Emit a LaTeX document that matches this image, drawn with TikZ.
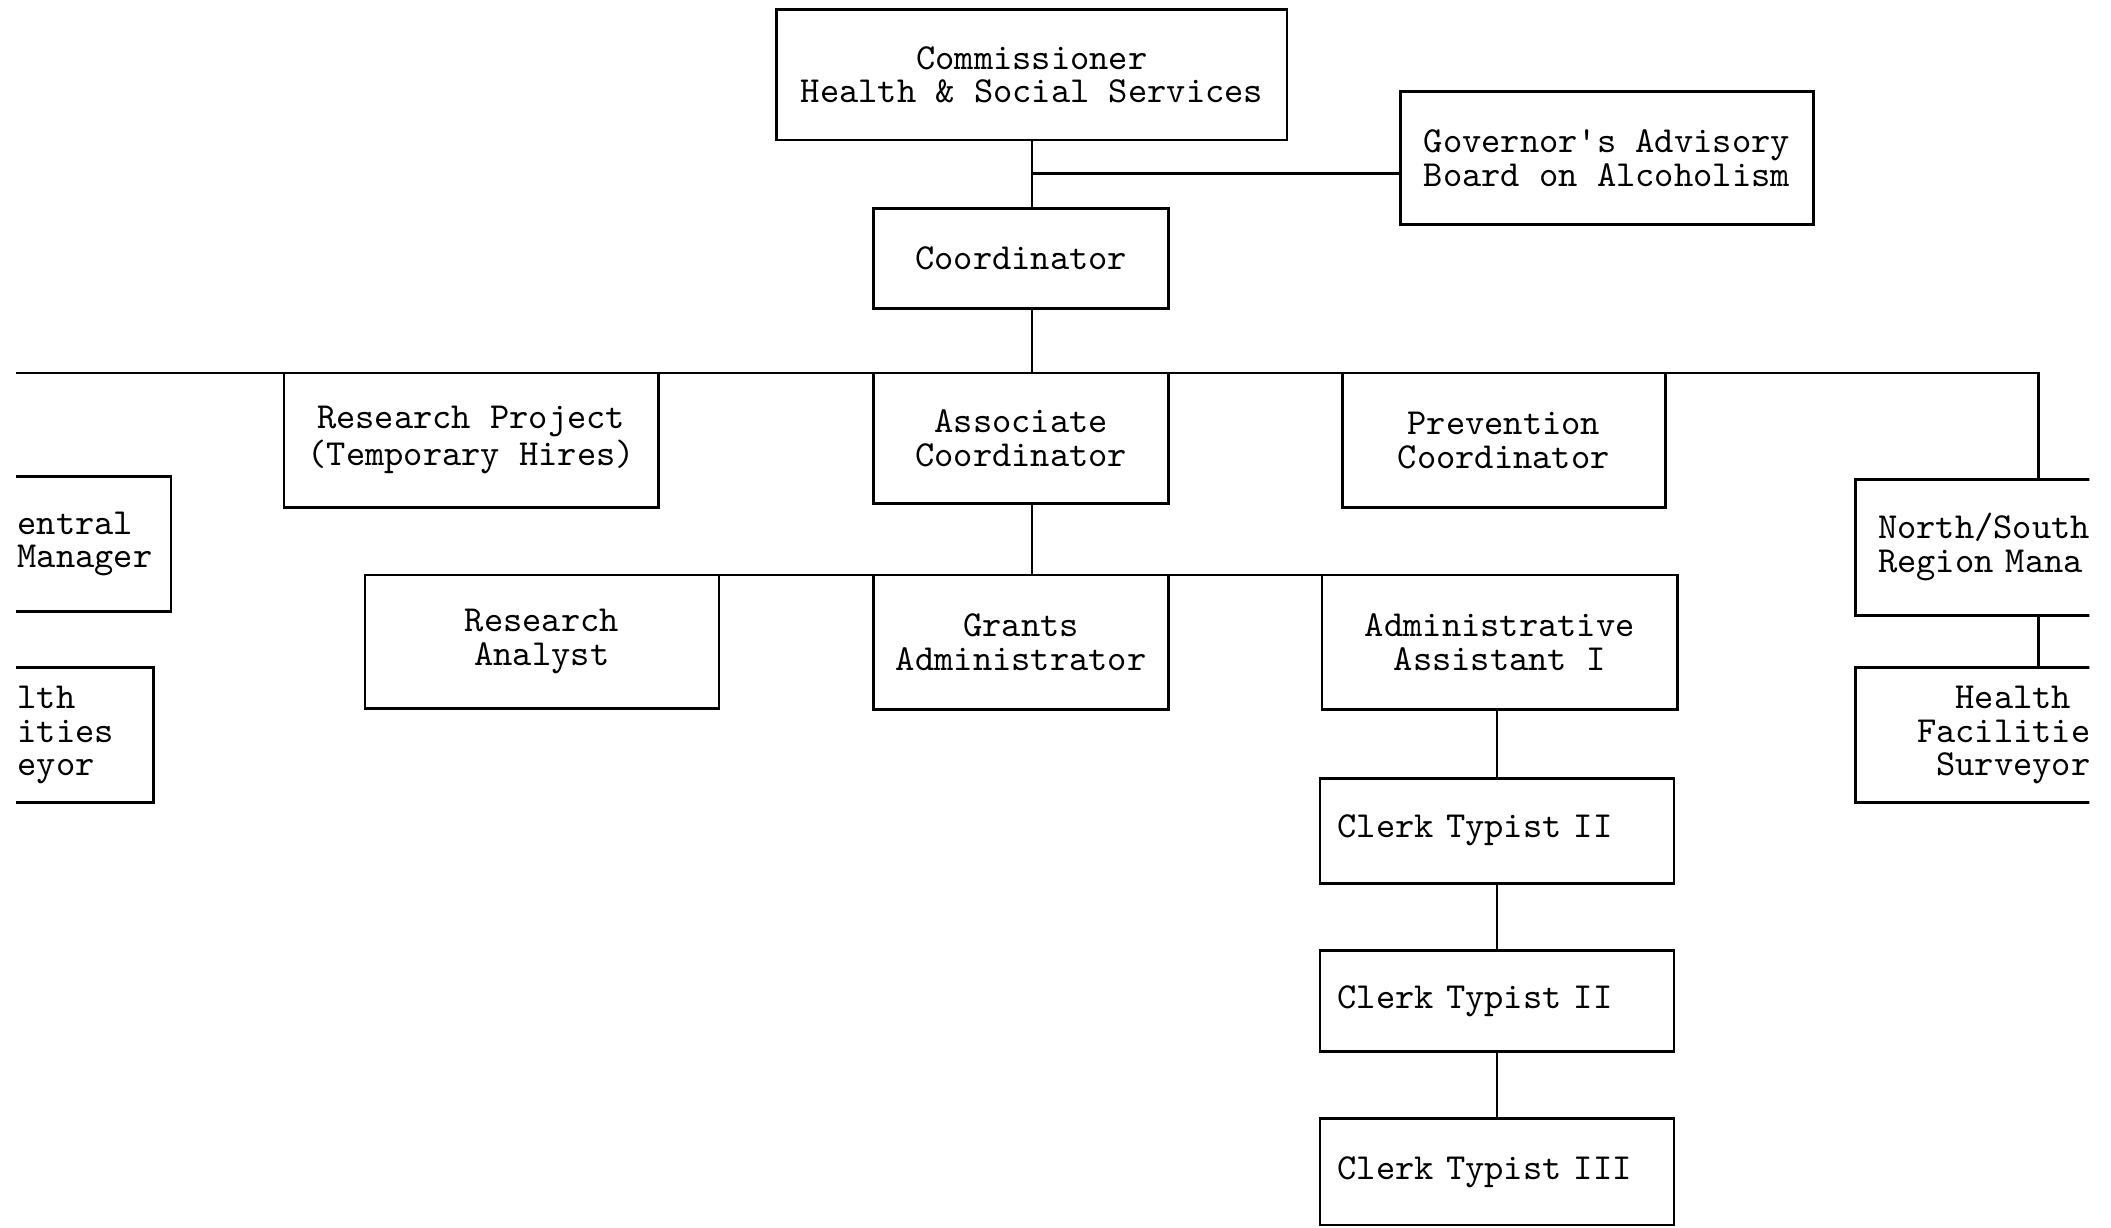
\documentclass[tikz,border=0pt]{standalone}
\usepackage{tikz}

\tikzset{
	post/.style={shape=rectangle, draw=black, line width=0.8pt, align=center, inner sep=0pt, outer sep=0pt},
	cutpost/.style={post, align=left, inner ysep=0pt},
	clerkpost/.style={post, align=left, text width=94.8pt, inner xsep=5.2pt},
	link/.style={draw=black, line width=0.8pt},
}

\begin{document}
\begin{tikzpicture}[x=0.4pt, y=-0.4pt, font=\fontsize{10.9}{10}\selectfont\ttfamily]
	\useasboundingbox (0,0) rectangle (1568,912);

	\begin{scope}
	\clip (12,-5) rectangle (1552,917);

	\node[post, minimum width=151.6pt, minimum height=38.8pt] (comm) at (766.5,55.5) {Commissioner\\Health \& Social Services};
	\node[post, minimum width=122.8pt, minimum height=39.6pt] (gov) at (1193.5,117.5) {Governor\textquotesingle s Advisory\\Board on Alcoholism};
	\node[post, minimum width=87.6pt, minimum height=29.6pt] (coord) at (758.5,192) {Coordinator};

	\node[post, minimum width=111.2pt, minimum height=40pt] (resproj) at (350,327) {Research Project\\(Temporary Hires)};
	\node[post, minimum width=87.6pt, minimum height=38.8pt] (assoc) at (758.5,325.5) {Associate\\Coordinator};
	\node[post, minimum width=96pt, minimum height=40pt] (prev) at (1117,327) {Prevention\\Coordinator};

	\node[cutpost, anchor=east, text width=40pt, inner xsep=5.6pt, minimum height=40pt] (central) at (127,404) {entral\\Manager};
	\node[cutpost, anchor=east, text width=34.4pt, inner xsep=6pt, minimum height=40pt] (lhfs) at (114,546) {lth\\ities\\eyor};

	\node[post, minimum width=105.2pt, minimum height=39.6pt] (ra) at (402.5,476.5) {Research\\Analyst};
	\node[post, minimum width=87.6pt, minimum height=40pt] (grants) at (758.5,477) {Grants\\Administrator};
	\node[post, minimum width=105.6pt, minimum height=40pt] (aa) at (1114,477) {Administrative\\Assistant I};

	\node[clerkpost, minimum height=31.2pt] (ct1) at (1112,617) {Clerk Typist II};
	\node[clerkpost, minimum height=30pt] (ct2) at (1112,743.5) {Clerk Typist II};
	\node[clerkpost, minimum height=31.6pt] (ct3) at (1112,870.5) {Clerk Typist III};

	\node[cutpost, anchor=west, text width=80pt, inner xsep=6.8pt, minimum height=40.4pt] (nsm) at (1378,406.5) {North/South\\Region Mana};
	\node[cutpost, anchor=west, text width=80pt, inner xsep=18.4pt, minimum height=40pt] (rhfs) at (1378,546) {\phantom{He}Health\\Facilitie\\\phantom{S}Surveyor};

	\coordinate (gjoin) at (766.5,129);
	\coordinate (barW) at (0,277);
	\coordinate (barE) at (1514,277);

	\draw[link] (comm.south) -- (comm.south |- coord.north);
	\draw[link] (gjoin) -- (gjoin -| gov.west);
	\draw[link] (comm.south |- coord.south) -- (comm.south |- barW);
	\draw[link] (barW) -- (barE) -- (barE |- nsm.north);
	\draw[link] (comm.south |- assoc.south) -- (comm.south |- grants.north);
	\draw[link] (ra.north east) -- (grants.north west);
	\draw[link] (grants.north east) -- (aa.north west);
	\draw[link] (ct1.north |- aa.south) -- (ct1.north);
	\draw[link] (ct1.south) -- (ct2.north);
	\draw[link] (ct2.south) -- (ct3.north);
	\draw[link] (barE |- nsm.south) -- (barE |- rhfs.north);
	\end{scope}
\end{tikzpicture}
\end{document}
